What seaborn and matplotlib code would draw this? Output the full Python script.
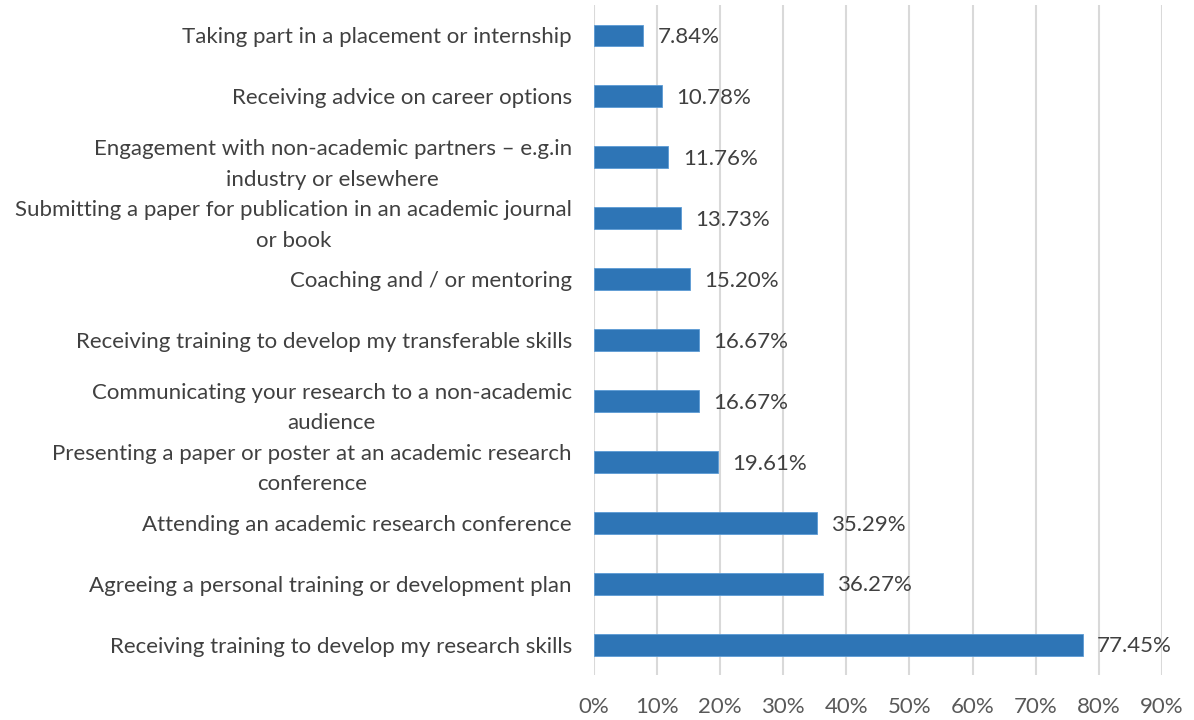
import pandas as pd
import matplotlib.pyplot as plt
import seaborn as sns

# Data (top to bottom as shown)
categories = [
    "Taking part in a placement or internship",
    "Receiving advice on career options",
    "Engagement with non-academic partners \u2013 e.g.in\nindustry or elsewhere",
    "Submitting a paper for publication in an academic journal\nor book",
    "Coaching and / or mentoring",
    "Receiving training to develop my transferable skills",
    "Communicating your research to a non-academic\naudience",
    "Presenting a paper or poster at an academic research\nconference",
    "Attending an academic research conference",
    "Agreeing a personal training or development plan",
    "Receiving training to develop my research skills",
]
values = [7.84, 10.78, 11.76, 13.73, 15.20, 16.67, 16.67, 19.61, 35.29, 36.27, 77.45]
x_ticks = [0, 10, 20, 30, 40, 50, 60, 70, 80, 90]

df = pd.DataFrame({"category": categories, "value": values})

sns.set_style("white")
plt.rcParams["font.family"] = ["Lato", "DejaVu Sans"]

fig = plt.figure(figsize=(11.94, 7.2), dpi=100)
ax = fig.add_axes([0.4975, 0.0625, 0.4755, 0.9305])

sns.barplot(data=df, x="value", y="category", orient="h", color="#2E75B6",
            saturation=1, width=0.36, edgecolor="#5B9BD5", linewidth=0.6, ax=ax, zorder=3)

# value labels next to bars
for i, v in enumerate(values):
    ax.text(v + 2.3, i + 0.03, f"{v:.2f}%", va="center", ha="left", fontsize=16, color="#404040")

ax.set_xlim(0, 90)
ax.set_ylim(len(categories) - 0.5, -0.5)
ax.set_xticks(x_ticks)
ax.set_xticklabels([f"{t}%" for t in x_ticks], fontsize=16, color="#595959")
ax.tick_params(axis="y", labelsize=16, labelcolor="#404040", length=0, pad=16)
ax.tick_params(axis="x", length=0, pad=16)
for lbl in ax.get_yticklabels():
    lbl.set_multialignment("center")
    lbl.set_linespacing(1.65)
ax.set_xlabel("")
ax.set_ylabel("")
ax.xaxis.grid(True, color="#D9D9D9", linewidth=1.5, zorder=0)
ax.set_axisbelow(True)
for s in ax.spines.values():
    s.set_visible(False)

fig.savefig("out.png", dpi=100)
